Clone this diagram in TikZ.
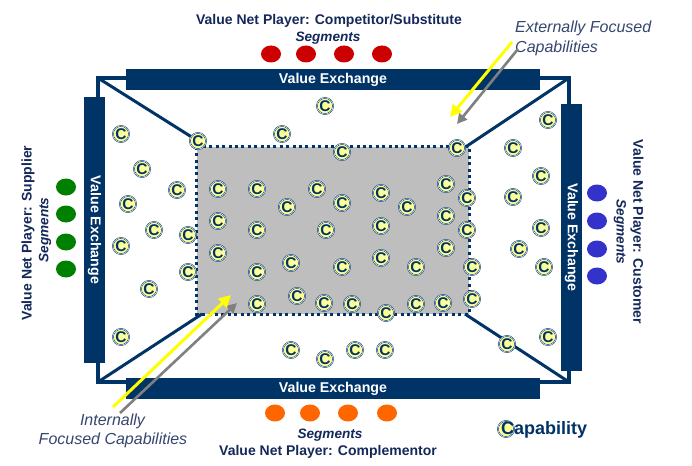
\documentclass[tikz,border=0pt]{standalone}
\usepackage{fontspec}
\setmainfont{Liberation Sans}
\usetikzlibrary{arrows.meta,shapes.geometric}
\definecolor{navy}{HTML}{003366}
\definecolor{titleink}{HTML}{14285A}
\definecolor{noteink}{HTML}{36466E}
\definecolor{capyellow}{HTML}{FFFF99}
\definecolor{redseg}{HTML}{CC0000}
\definecolor{orangeseg}{HTML}{FF6600}
\definecolor{greenseg}{HTML}{008000}
\definecolor{blueseg}{HTML}{3333CC}
\definecolor{coregray}{HTML}{BEBEBE}
\definecolor{arrowgray}{HTML}{808080}
\definecolor{arrowyellow}{HTML}{FFFF00}
\newcommand{\barlabel}{\raisebox{-1.3pt}{Value Exchange}}
\tikzset{
  barh/.style={fill=navy,text=white,minimum width=414pt,minimum height=21pt,inner sep=0pt,font=\fontsize{14.2}{14}\selectfont\bfseries},
  barv/.style={barh,minimum width=266pt},
  wire/.style={draw=navy,line width=3.6pt,line join=miter},
  diag/.style={draw=navy,line width=3pt},
  capn/.style={circle,fill=capyellow,draw=navy,line width=.5pt,double=white,double distance=.5pt,minimum size=16.2pt,inner sep=0pt,text=navy,font=\fontsize{15.5}{15}\selectfont\bfseries},
  seg/.style={ellipse,minimum width=20pt,minimum height=17pt,inner sep=0pt,fill=#1},
  title/.style={text=titleink,inner sep=0pt,font=\fontsize{14}{14}\selectfont\bfseries},
  segtext/.style={text=titleink,inner sep=0pt,font=\fontsize{13.6}{14}\selectfont\bfseries\itshape},
  note/.style={text=noteink,inner sep=0pt,font=\fontsize{16}{16}\selectfont\itshape},
  yarrow/.style={draw=arrowyellow,line width=3pt,-{Triangle[length=12pt,width=12pt]}},
  garrow/.style={draw=arrowgray,line width=2.6pt,-{Triangle[length=10pt,width=10pt]}},
}
\begin{document}
\begin{tikzpicture}[x=1pt,y=-1pt]
\useasboundingbox (0,0) rectangle (692,465);
\fill[white] (0,0) rectangle (692,465);
% corner points
\coordinate (tl) at (98,78);
\coordinate (tr) at (569,78);
\coordinate (bl) at (98,382);
\coordinate (br) at (569,382);
% bars
\node[barh] (top) at (333,79.5) {\barlabel};
\node[barh] (bot) at (333,388.5) {\barlabel};
\node[barv,rotate=-90] (lft) at (94.5,230) {\barlabel};
\node[barv,rotate=-90,minimum width=267pt] (rgt) at (571.5,237.5) {\barlabel};
% corner brackets
\coordinate (topl) at (126,78);
\coordinate (topr) at (540,78);
\coordinate (botl) at (126,382);
\coordinate (botr) at (540,382);
\coordinate (lftt) at (98,97);
\coordinate (lftb) at (98,363);
\coordinate (rgtt) at (569,104);
\coordinate (rgtb) at (569,371);
\draw[wire] (topl) -- (tl) -- (lftt);
\draw[wire] (topr) -- (tr) -- (rgtt);
\draw[wire] (botl) -- (bl) -- (lftb);
\draw[wire] (botr) -- (br) -- (rgtb);
% core rectangle
\node[minimum width=272pt,minimum height=167pt,inner sep=0pt,fill=coregray] (core) at (333,230.5) {};
\draw[navy,line width=2.8pt,dash pattern=on 3pt off 3.4pt] (core.north west) rectangle (core.south east);
% diagonals
\coordinate (dtl) at (198,141);
\coordinate (dtr) at (467,146);
\coordinate (dbl) at (202,314);
\coordinate (dbr) at (465,314);
\draw[diag] (tl) -- (dtl);
\draw[diag] (tr) -- (dtr);
\draw[diag] (bl) -- (dbl);
\draw[diag] (br) -- (dbr);
% segments
\foreach \n/\x in {1/271,2/306,3/344,4/382} \node[seg=redseg] (r\n) at (\x,54) {};
\foreach \n/\x in {1/275,2/310,3/348,4/387} \node[seg=orangeseg] (o\n) at (\x,413) {};
\foreach \n/\y in {1/187,2/214,3/242,4/269} \node[seg=greenseg] (g\n) at (66,\y) {};
\foreach \n/\y in {1/193,2/221,3/249,4/276} \node[seg=blueseg] (b\n) at (597,\y) {};
% titles
\node[title] (ttop) at (329,20.5) {Value Net Player: Competitor/Substitute};
\node[segtext] (stop) at (328,38) {Segments};
\node[segtext] (sbot) at (330,435) {Segments};
\node[title] (tbot) at (328,452) {Value Net Player: Complementor};
\node[title,rotate=90] (tlft) at (28,233) {Value Net Player: Supplier};
\node[segtext,rotate=90] (slft) at (45,230) {Segments};
\node[title,rotate=-90] (trgt) at (637,232) {Value Net Player: Customer};
\node[segtext,rotate=-90] (srgt) at (620,232) {Segments};
% capabilities
\foreach \n/\x/\y in {
 1/121/134,2/198/141,3/282/134,4/325/106,5/342/152,6/457/148,7/548/120,8/513/148,
 9/142/169,10/177/190,11/218/189,12/257/189,13/317/189,14/128/204,15/287/207,16/218/221,
 17/257/230,18/326/230,19/154/230,20/188/235,21/121/246,22/218/253,23/291/263,24/188/272,
 25/257/272,26/149/289,27/297/296,28/257/304,29/324/303,30/121/337,
 31/541/176,32/446/184,33/381/193,34/467/198,35/513/197,36/342/203,37/407/207,38/446/216,
 39/381/226,40/467/230,41/541/228,42/446/248,43/519/249,44/381/258,45/342/267,46/416/267,
 47/472/267,48/544/267,49/352/304,50/416/304,51/443/303,52/472/299,53/386/313,54/507/344,
 55/548/337,56/291/350,57/325/359,58/355/350,59/385/350}
 \node[capn] (c\n) at (\x,\y) {C};
% legend
\node[capn] (legc) at (506,429) {};
\node[anchor=west,inner sep=0pt,text=navy,font=\fontsize{18}{18}\selectfont\bfseries] (legtext) at (501,430) {Capability};
% notes
\node[note,anchor=west] (ext1) at (515,28) {Externally Focused};
\node[note,anchor=west] (ext2) at (515,48) {Capabilities};
\node[note] (int1) at (112.5,421.5) {Internally};
\node[note] (int2) at (113,440) {Focused Capabilities};
% arrows
\coordinate (ey0) at (512,42);  \coordinate (ey1) at (450,117);
\coordinate (eg0) at (518,49);  \coordinate (eg1) at (457,124);
\coordinate (iy0) at (113,407); \coordinate (iy1) at (231,295);
\coordinate (ig0) at (120,413); \coordinate (ig1) at (237,303);
\draw[garrow] (eg0) -- (eg1);
\draw[yarrow] (ey0) -- (ey1);
\draw[garrow] (ig0) -- (ig1);
\draw[yarrow] (iy0) -- (iy1);
\end{tikzpicture}
\end{document}
